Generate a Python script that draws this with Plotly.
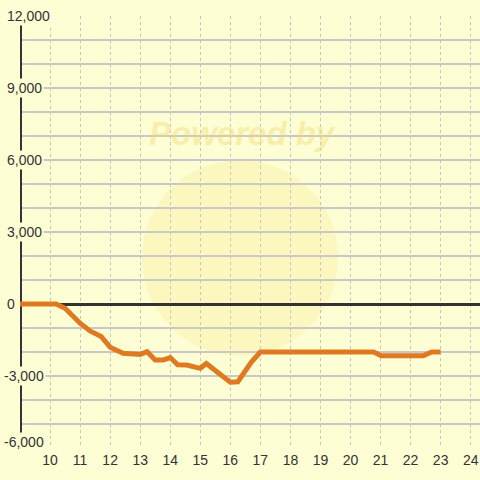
import plotly.graph_objects as go

# data
hours = [9, 10, 10.2, 10.5, 11, 11.33, 11.7, 12, 12.43, 13, 13.23, 13.5, 13.77, 14,
         14.25, 14.55, 15, 15.2, 16, 16.25, 16.7, 17, 20.77, 21.02, 22.42, 22.7, 23]
values = [0, 0, 0, -180, -800, -1120, -1350, -1800, -2050, -2100, -1990, -2330, -2330, -2230,
          -2530, -2540, -2680, -2480, -3260, -3240, -2420, -2000, -2000, -2160, -2160, -2000, -2000]

x_ticks = list(range(10, 25))
y_grid = list(range(-6000, 12001, 1000))
y_label_vals = [12000, 9000, 6000, 3000, 0, -3000, -6000]
y_label_text = ["12,000", "9,000", "6,000", "3,000", "0", "-3,000", "-6,000"]

BG = "#FEFED4"
W, H = 480, 480
ML, MR, MT, MB = 20, 0, 16, 32
PW = W - ML - MR
PH = H - MT - MB

fig = go.Figure()
fig.add_trace(go.Scatter(x=hours, y=values, mode="lines",
                         line=dict(color="#E07A22", width=5), hoverinfo="skip"))

# watermark circle
fig.add_shape(type="circle", xref="paper", yref="paper",
              x0=(142 - ML) / PW, x1=(338 - ML) / PW,
              y0=(H - MB - 356) / PH, y1=(H - MB - 160) / PH,
              line=dict(width=0), fillcolor="rgba(245,222,120,0.22)", layer="below")
# y axis line
fig.add_shape(type="line", xref="x", yref="y", x0=9, x1=9, y0=-6000, y1=12000,
              line=dict(color="#333333", width=4), layer="between")

annotations = [dict(text="<b><i>Powered by</i></b>", xref="paper", yref="paper",
                    x=(242 - ML) / PW, y=(H - MB - 133) / PH,
                    xanchor="center", yanchor="middle",
                    showarrow=False, font=dict(family="Liberation Sans", size=33,
                                               color="rgba(238,218,120,0.45)"))]
for v, t in zip(y_label_vals, y_label_text):
    left = 2 if t.startswith("-") else 5
    # the bottom label sits slightly inside the plot area, as in the reference
    ypos = max(v, -5750)
    annotations.append(dict(text=t, xref="paper", yref="y", x=(left - ML) / PW, y=ypos,
                            xanchor="left", yanchor="middle", showarrow=False,
                            bgcolor=BG, borderpad=1,
                            font=dict(family="Liberation Sans", size=14, color="#333333")))

fig.update_layout(
    width=W, height=H,
    margin=dict(l=ML, r=MR, t=MT, b=MB),
    paper_bgcolor=BG, plot_bgcolor=BG,
    showlegend=False,
    font=dict(family="Liberation Sans", size=14, color="#333333"),
    annotations=annotations,
    xaxis=dict(range=[9, 24.31], tickvals=x_ticks, ticktext=[str(t) for t in x_ticks],
               showgrid=True, gridcolor="#C4C4C4", gridwidth=1, griddash="3px,3px",
               zeroline=False, showline=False, ticks="", ticklabelstandoff=2,
               fixedrange=True),
    yaxis=dict(range=[-6000, 12000], tickvals=y_grid, showticklabels=False,
               showgrid=True, gridcolor="#C8C8C8", gridwidth=2,
               zeroline=True, zerolinecolor="#333333", zerolinewidth=3,
               showline=False, ticks="", fixedrange=True),
)

fig.write_html("out.html", config={"displayModeBar": False},
               post_script="document.body.style.margin='0';")
